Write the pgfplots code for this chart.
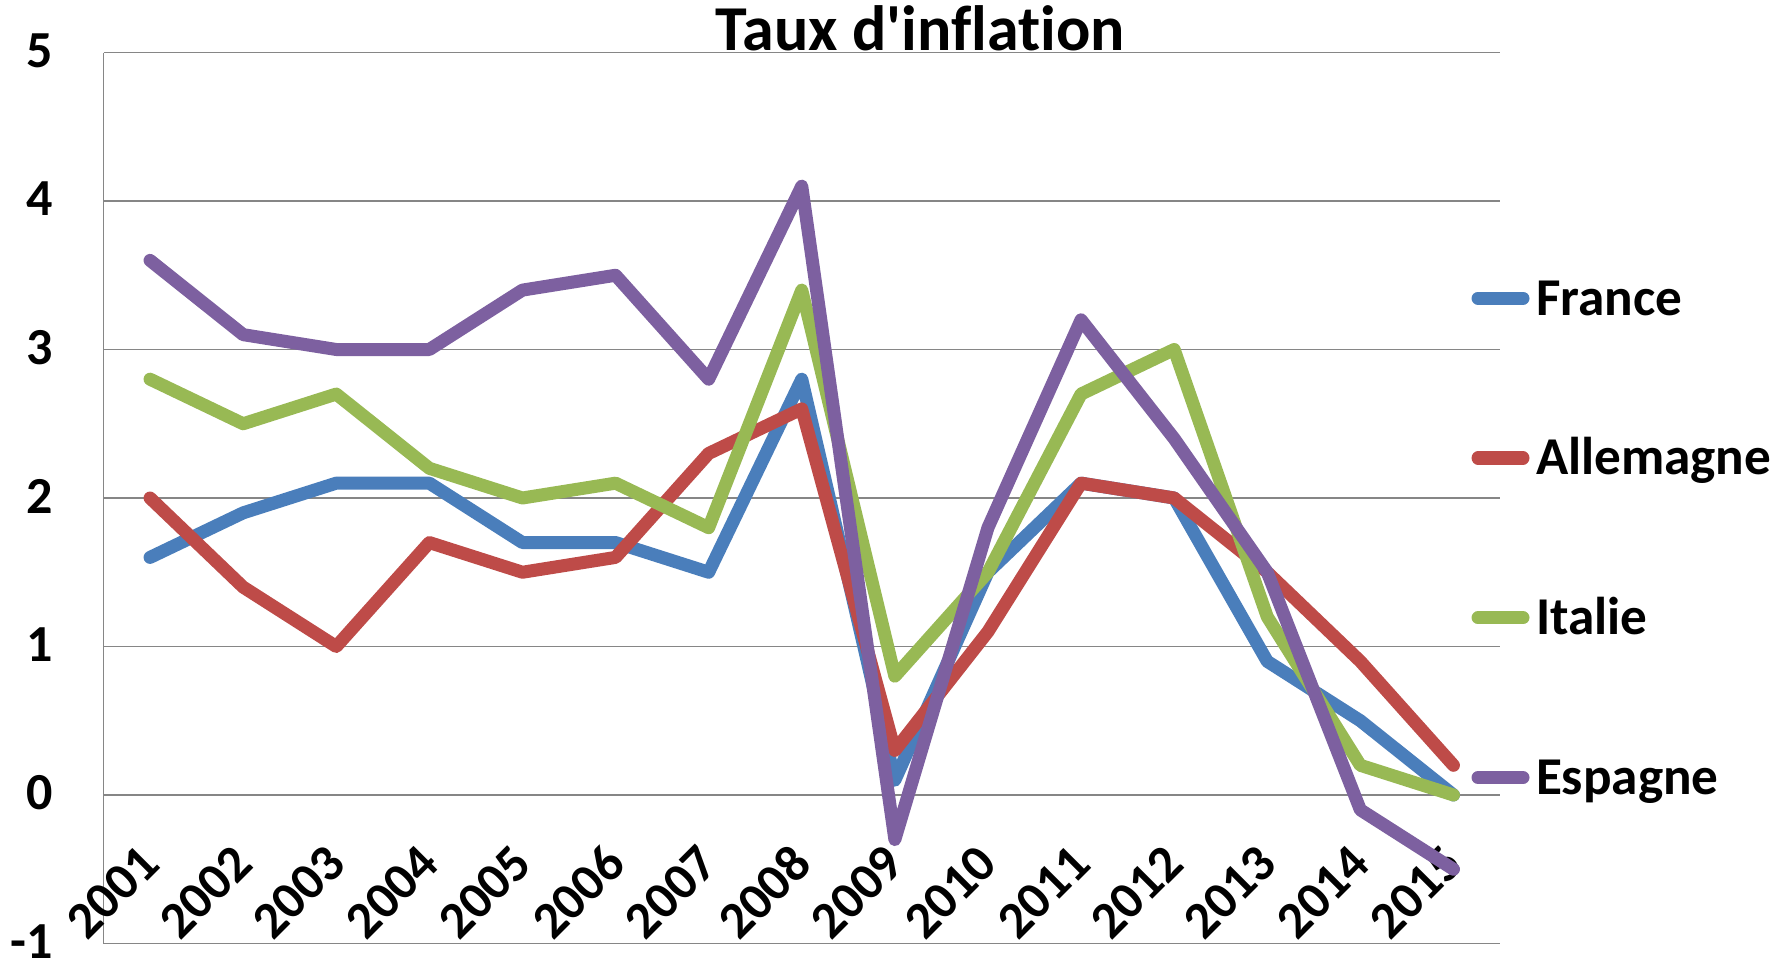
\documentclass[border=0pt]{standalone}
\usepackage{fontspec}
\setmainfont{Carlito}[Ligatures={NoCommon}]
\usepackage{pgfplots}
\pgfplotsset{compat=1.18}
\definecolor{cFr}{HTML}{4A7EBB}
\definecolor{cDe}{HTML}{BE4B48}
\definecolor{cIt}{HTML}{98B954}
\definecolor{cEs}{HTML}{7D60A0}
\definecolor{gridgray}{HTML}{868686}
\begin{document}
\begin{tikzpicture}
\useasboundingbox (0,0) rectangle (894bp,480.5bp);
\begin{axis}[
  at={(51.75bp,8.75bp)}, anchor=south west,
  scale only axis, width=698.25bp, height=445.5bp,
  xmin=0.5, xmax=15.5, ymin=-1, ymax=5,
  axis x line*=bottom, axis y line*=left,
  axis line style={gridgray, line width=0.8bp, -},
  ymajorgrids, major grid style={gridgray, line width=0.8bp},
  ytick={-1,0,1,2,3,4,5}, yticklabels={-1,0,1,2,3,4,5},
  xtick={1,...,15},
  xticklabels={2001,2002,2003,2004,2005,2006,2007,2008,2009,2010,2011,2012,2013,2014,2015},
  major tick length=0pt,
  tick label style={font=\fontsize{26bp}{26bp}\selectfont\bfseries},
  yticklabel style={anchor=east, inner sep=0pt, xshift=-25bp, yshift=1bp},
  xticklabel style={yshift=44.5bp, rotate=45, anchor=east, inner sep=0pt},
  title={Taux d\textquotesingle inflation},
  title style={at={(0.585,1.002)}, anchor=base, yshift=-6pt, inner sep=0pt, font=\fontsize{32bp}{32bp}\selectfont\bfseries},
  legend style={at={(0.9796,0.7458)}, anchor=north west, draw=none, fill=none,
    inner sep=0pt, outer sep=0pt, row sep=55.9bp, column sep=3.25bp,
    font=\fontsize{26.6bp}{26.6bp}\selectfont\bfseries,
    nodes={inner sep=0pt, text height=18bp, text depth=6bp}},
  legend cell align=left,
  legend image code/.code={\draw[#1, line width=6.5bp, line cap=round] (0bp,2.4bp) -- (22.5bp,2.4bp);},
  every axis plot/.append style={line width=6.5bp, line join=round, line cap=round, mark=none},
]
\addplot[cFr] coordinates {(1,1.6) (2,1.9) (3,2.1) (4,2.1) (5,1.7) (6,1.7) (7,1.5) (8,2.8) (9,0.1) (10,1.5) (11,2.1) (12,2.0) (13,0.9) (14,0.5) (15,0.0)};
\addlegendentry{France}
\addplot[cDe] coordinates {(1,2.0) (2,1.4) (3,1.0) (4,1.7) (5,1.5) (6,1.6) (7,2.3) (8,2.6) (9,0.3) (10,1.1) (11,2.1) (12,2.0) (13,1.5) (14,0.9) (15,0.2)};
\addlegendentry{Allemagne}
\addplot[cIt] coordinates {(1,2.8) (2,2.5) (3,2.7) (4,2.2) (5,2.0) (6,2.1) (7,1.8) (8,3.4) (9,0.8) (10,1.5) (11,2.7) (12,3.0) (13,1.2) (14,0.2) (15,0.0)};
\addlegendentry{Italie}
\addplot[cEs] coordinates {(1,3.6) (2,3.1) (3,3.0) (4,3.0) (5,3.4) (6,3.5) (7,2.8) (8,4.1) (9,-0.3) (10,1.8) (11,3.2) (12,2.4) (13,1.5) (14,-0.1) (15,-0.5)};
\addlegendentry{Espagne}
\end{axis}
\end{tikzpicture}
\end{document}
